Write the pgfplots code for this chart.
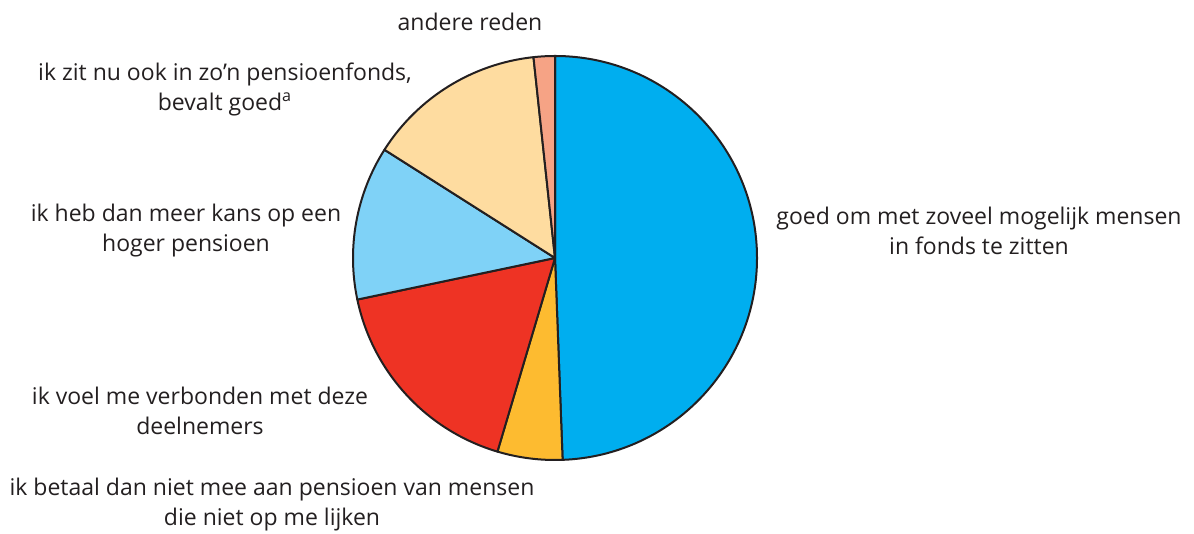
\documentclass[border=0pt]{standalone}
\usepackage{pgfplots}
\usepackage{pgfplotstable}
\pgfplotsset{compat=1.18}
\usepackage{fontspec}
\setmainfont{Open Sans}
\definecolor{cblue}{RGB}{0,174,239}
\definecolor{corange}{RGB}{253,187,48}
\definecolor{cred}{RGB}{238,51,36}
\definecolor{clblue}{RGB}{127,210,247}
\definecolor{cyellow}{RGB}{254,220,160}
\definecolor{csalmon}{RGB}{246,163,133}
\definecolor{ctext}{RGB}{35,31,32}

% share of respondents per reason (%), clockwise from 12 o'clock
\pgfplotstableread{
pct  col
49.4 cblue
5.2  corange
17.1 cred
12.3 clblue
14.3 cyellow
1.7  csalmon
}\piedata

\begin{document}
\begin{tikzpicture}
\begin{axis}[x=0.5bp, y=0.5bp, xmin=0, xmax=1194, ymin=0, ymax=534,
  hide axis, clip=false, scale only axis]
\path (axis cs:0,0) (axis cs:1194,534);
\def\cum{0}
\pgfplotsforeachungrouped \i in {0,...,5}{
  \pgfplotstablegetelem{\i}{pct}\of\piedata \let\p\pgfplotsretval
  \pgfplotstablegetelem{\i}{col}\of\piedata \let\c\pgfplotsretval
  \pgfmathsetmacro\sa{90-3.6*\cum}
  \pgfmathsetmacro\ea{90-3.6*(\cum+\p)}
  \pgfmathsetmacro\cum{\cum+\p}
  \edef\tmp{\noexpand\filldraw[fill=\c, draw=ctext, line width=1bp, line join=round]
    (axis cs:555,276) -- ++(\sa:101bp) arc[start angle=\sa, end angle=\ea, radius=101bp] -- cycle;}
  \tmp
}
\tikzset{lbl/.style={align=center, text=ctext, font=\fontsize{11.5bp}{15bp}\selectfont, inner sep=0pt}}
\node[lbl] at (axis cs:470,512) {andere reden};
\node[lbl] at (axis cs:225,445) {ik zit nu ook in zo’n pensioenfonds,\\bevalt goed\textsuperscript{a}};
\node[lbl] at (axis cs:186,303) {ik heb dan meer kans op een\\hoger pensioen};
\node[lbl] at (axis cs:979,303) {goed om met zoveel mogelijk mensen\\in fonds te zitten};
\node[lbl] at (axis cs:200,123) {ik voel me verbonden met deze\\deelnemers};
\node[lbl] at (axis cs:272,29) {ik betaal dan niet mee aan pensioen van mensen\\die niet op me lijken};
\end{axis}
\end{tikzpicture}
\end{document}
